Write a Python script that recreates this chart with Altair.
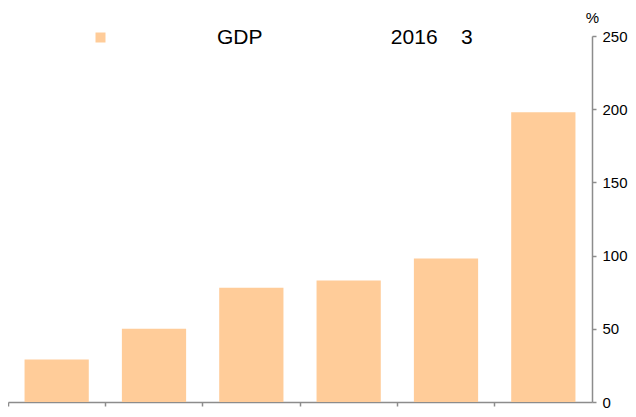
import altair as alt
import pandas as pd

categories = ["A", "B", "C", "D", "E", "F"]
values = [29, 50, 78, 83, 98, 198]
series_name = "GDP"
NB = "\u00a0"
legend_label = "GDP" + NB * 22 + "2016" + NB * 4 + "3"

df = pd.DataFrame({"cat": categories, "val": values, "series": [series_name] * len(values)})

FONT = "Liberation Sans"
GRAY = "#8c8c8c"

chart = alt.Chart(df).mark_bar(width=alt.RelativeBandSize(0.66), color="#FFCC99").encode(
    x=alt.X("cat:N", sort=categories,
            scale=alt.Scale(paddingInner=0, paddingOuter=0),
            axis=alt.Axis(title=None, labels=False, bandPosition=0, tickSize=4,
                          domainColor=GRAY, tickColor=GRAY, domainWidth=1.5, tickWidth=1.5, grid=False)),
    y=alt.Y("val:Q", scale=alt.Scale(domain=[0, 250], nice=False),
            axis=alt.Axis(orient="right", values=[0, 50, 100, 150, 200, 250], title="%",
                          titleAngle=0, titleX=0, titleY=-11, titleAlign="center", titleBaseline="bottom",
                          titleFont=FONT, titleFontSize=15, titleFontWeight="normal", titleColor="black",
                          labelFont=FONT, labelFontSize=15, labelColor="black", labelPadding=6,
                          tickSize=4, domainColor=GRAY, tickColor=GRAY, domainWidth=1.5, tickWidth=1.5,
                          grid=False)),
    color=alt.Color("series:N", scale=alt.Scale(range=["#FFCC99"]),
                    legend=alt.Legend(title=None, orient="none", legendX=82, legendY=-9,
                                      symbolType="square", symbolSize=100, symbolStrokeWidth=0,
                                      labelFont=FONT, labelFontSize=21, labelColor="black",
                                      labelOffset=106, labelLimit=700,
                                      labelExpr=f"'{legend_label}'")),
).properties(
    width=584, height=366,
    autosize=alt.AutoSizeParams(type="none"),
    padding={"left": 0, "top": 28, "right": 36, "bottom": 7},
).configure_view(stroke=None)

chart.save("out.html", embed_options={"renderer": "svg", "actions": False})
